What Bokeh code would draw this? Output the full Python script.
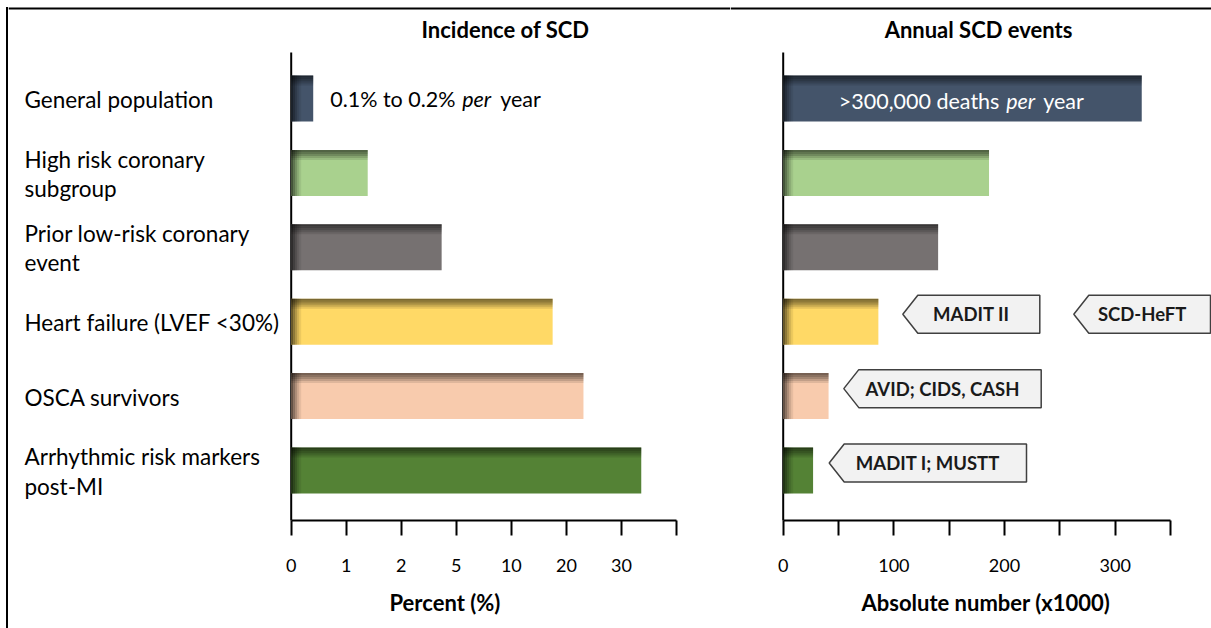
import numpy as np
from bokeh.plotting import figure
from bokeh.layouts import row
from bokeh.models import Range1d, FixedTicker, Spacer, Title
from bokeh.core.properties import value
from bokeh.embed import file_html
from bokeh.resources import INLINE

# ---------------- data ----------------
groups = [
    "General population",
    "High risk coronary\nsubgroup",
    "Prior low-risk coronary\nevent",
    "Heart failure (LVEF <30%)",
    "OSCA survivors",
    "Arrhythmic risk markers\npost-MI",
]
incidence_pct = [0.4, 1.39, 4.2, 17.5, 23.1, 33.6]      # % per year
annual_events_k = [324, 186, 140, 86, 41, 27]           # deaths per year (x1000)
bar_colors = ["#44546A", "#A9D18E", "#767171", "#FFD966", "#F8CBAD", "#548235"]

pct_tick_values = [0, 1, 2, 5, 10, 20, 30, 40]
pct_tick_labels = ["0", "1", "2", "5", "10", "20", "30", ""]
abs_tick_values = [0, 50, 100, 150, 200, 250, 300, 350]
abs_tick_labels = ["0", "", "100", "", "200", "", "300", ""]

trials = ["MADIT II", "SCD-HeFT", "AVID; CIDS, CASH", "MADIT I; MUSTT"]
trial_rows = [3, 3, 4, 5]

# ---------------- layout (pixels) ----------------
H = 628
EDGE_W = 8                           # strip carrying the frame's left rule
LEFT_X0, LEFT_W = 8, 722             # page x where the left panel starts, its width
RIGHT_X0, RIGHT_W = 730, 481
FRAME_BOTTOM = 520
ROW0, ROW_STEP = 98.0, 74.4
L_ZERO, L_PX = 290.7, 55.04        # left panel: axis zero (page x) and px per axis step
R_ZERO, R_PX = 782.7, 1.1066       # right panel: axis zero (page x) and px per unit
BAR_H = 46 / ROW_STEP

FONT = "Lato"
TXT = "#000000"
LABEL_PX = "22.5px"
AXIS_TITLE_PX = "22px"


def py2y(py):
    return (py - ROW0) / ROW_STEP


def lx(px):
    return (px - L_ZERO) / L_PX


def rx(px):
    return (px - R_ZERO) / R_PX


def pct_to_axis(v):
    # the percent axis is stretched: equal spacing between its tick values
    return np.interp(v, pct_tick_values, np.arange(len(pct_tick_values)))


y_range = Range1d(py2y(FRAME_BOTTOM), py2y(0))


def base_fig(width, x_start, x_end):
    p = figure(width=width, height=H, x_range=Range1d(x_start, x_end), y_range=y_range,
               title=None, toolbar_location=None, output_backend="svg",
               y_axis_location=None, min_border_left=0, min_border_right=0,
               min_border_top=0, min_border_bottom=H - FRAME_BOTTOM)
    p.grid.visible = False
    p.outline_line_color = None
    p.background_fill_color = "white"
    p.border_fill_color = "white"
    ax = p.xaxis[0]
    ax.axis_line_width = 2
    ax.axis_line_color = "black"
    ax.major_tick_line_width = 2
    ax.major_tick_line_color = "black"
    ax.major_tick_out = 15
    ax.major_tick_in = 0
    ax.minor_tick_line_color = None
    ax.major_label_text_font = FONT
    ax.major_label_text_font_size = "18px"
    ax.major_label_text_color = TXT
    ax.major_label_standoff = 23
    return p


def axis_title(p, text, left_offset):
    p.add_layout(Title(text=text, align="left", offset=left_offset, standoff=24,
                       text_font=FONT, text_font_size=AXIS_TITLE_PX, text_font_style="bold",
                       text_color=TXT), "below")


def shaded_bars(p, ys, rights, px_per_unit):
    half = BAR_H / 2
    rights = np.asarray(rights, dtype=float)
    ys = np.asarray(ys, dtype=float)
    p.quad(left=0, right=rights, top=ys - half, bottom=ys + half,
           fill_color=bar_colors, line_color=None)
    strip = 2.0
    # inner shadow along the top edge
    for k, a in enumerate([0.52, 0.44, 0.34, 0.22, 0.1]):
        y0 = ys - half + k * strip / ROW_STEP
        p.quad(left=0, right=rights, top=y0, bottom=y0 + strip / ROW_STEP,
               fill_color="black", fill_alpha=a, line_color=None)
    # inner shadow along the left edge
    for k, a in enumerate([0.6, 0.45, 0.3, 0.17, 0.07]):
        x0 = k * strip / px_per_unit
        p.quad(left=x0, right=np.minimum(rights, x0 + strip / px_per_unit),
               top=ys - half, bottom=ys + half,
               fill_color="black", fill_alpha=a, line_color=None)


rows_idx = list(range(len(groups)))

# ---------------- left rule of the outer frame ----------------
edge = Spacer(width=EDGE_W, height=H, margin=0,
              styles={"background": "linear-gradient(#000, #000) 6px 7px / 2px 621px no-repeat"})

# ---------------- left panel: incidence ----------------
pl = base_fig(LEFT_W, lx(LEFT_X0), lx(LEFT_X0 + LEFT_W))
axl = pl.xaxis[0]
axl.ticker = FixedTicker(ticks=list(range(len(pct_tick_values))), minor_ticks=[])
axl.major_label_overrides = {i: s for i, s in enumerate(pct_tick_labels)}
axl.bounds = (0, len(pct_tick_values) - 1)
axis_title(pl, "Percent (%)", 389 - LEFT_X0)

pl.segment(x0=[lx(LEFT_X0)], y0=[py2y(8)], x1=[lx(LEFT_X0 + LEFT_W)], y1=[py2y(8)],
           line_color="black", line_width=2)
pl.segment(x0=[0], y0=[py2y(52)], x1=[0], y1=[py2y(FRAME_BOTTOM + 5)], line_color="black", line_width=2)

shaded_bars(pl, rows_idx, pct_to_axis(incidence_pct), L_PX)

pl.text(x=lx(24), y=rows_idx, text=groups, text_font=value(FONT), y_offset=1,
        text_font_size=LABEL_PX, text_color=TXT, text_align="left", text_baseline="middle",
        text_line_height=1.08)

gp_x = float(pct_to_axis(incidence_pct[0]))
for piece, off, style in [("0.1% to 0.2%", 17, "normal"), ("per", 149, "italic"), ("year", 187, "normal")]:
    pl.text(x=[gp_x], y=[0], text=[piece], x_offset=off, text_font=value(FONT),
            text_font_size="21.5px", text_font_style=style, text_color=TXT,
            text_align="left", text_baseline="middle")

pl.text(x=[lx(505)], y=[py2y(29)], text=["Incidence of SCD"], text_font=value(FONT),
        text_font_size="22px", text_font_style="bold", text_color=TXT,
        text_align="center", text_baseline="middle")

# ---------------- right panel: annual events ----------------
pr = base_fig(RIGHT_W, rx(RIGHT_X0), rx(RIGHT_X0 + RIGHT_W))
axr = pr.xaxis[0]
axr.ticker = FixedTicker(ticks=abs_tick_values, minor_ticks=[])
axr.major_label_overrides = {v: s for v, s in zip(abs_tick_values, abs_tick_labels)}
axr.bounds = (abs_tick_values[0], abs_tick_values[-1])
axis_title(pr, "Absolute number (x1000)", 861 - RIGHT_X0)

pr.segment(x0=[rx(RIGHT_X0)], y0=[py2y(8)], x1=[rx(RIGHT_X0 + RIGHT_W)], y1=[py2y(8)],
           line_color="black", line_width=2)
pr.segment(x0=[0], y0=[py2y(52)], x1=[0], y1=[py2y(FRAME_BOTTOM + 5)], line_color="black", line_width=2)

shaded_bars(pr, rows_idx, annual_events_k, R_PX)

for piece, off, style in [(">300,000 deaths", 55.6, "normal"), ("per", 223, "italic"), ("year", 260, "normal")]:
    pr.text(x=[0], y=[0.03], text=[piece], x_offset=off, text_font=value(FONT),
            text_font_size="21.5px", text_font_style=style, text_color="white",
            text_align="left", text_baseline="middle")

# left-pointing trial callouts (tip x, right edge x in axis units)
tips = [rx(902.3), rx(1073.3), rx(843.3), rx(828.7)]
rights = [rx(1039.3), rx(1210), rx(1040.7), rx(1026)]
arrow = 15 / R_PX
ch = 38 / ROW_STEP / 2
xs, ys, cx, cy = [], [], [], []
for t, r, rw in zip(tips, rights, trial_rows):
    yc = rw - 0.1
    xs.append([t, t + arrow, r, r, t + arrow])
    ys.append([yc, yc - ch, yc - ch, yc + ch, yc + ch])
    cx.append((t + r) / 2)
    cy.append(yc)
pr.patches(xs=xs, ys=ys, fill_color="#F2F2F2", line_color="#404040", line_width=1.5)
pr.text(x=cx, y=cy, text=trials, text_font=value(FONT), text_font_size="18.5px",
        text_font_style="bold", text_color="#1a1a1a", text_align="center", text_baseline="middle")

pr.text(x=[rx(978)], y=[py2y(29)], text=["Annual SCD events"], text_font=value(FONT),
        text_font_size="22px", text_font_style="bold", text_color=TXT,
        text_align="center", text_baseline="middle")

layout = row(edge, pl, pr, spacing=0)
open("out.html", "w").write(file_html(layout, INLINE))
